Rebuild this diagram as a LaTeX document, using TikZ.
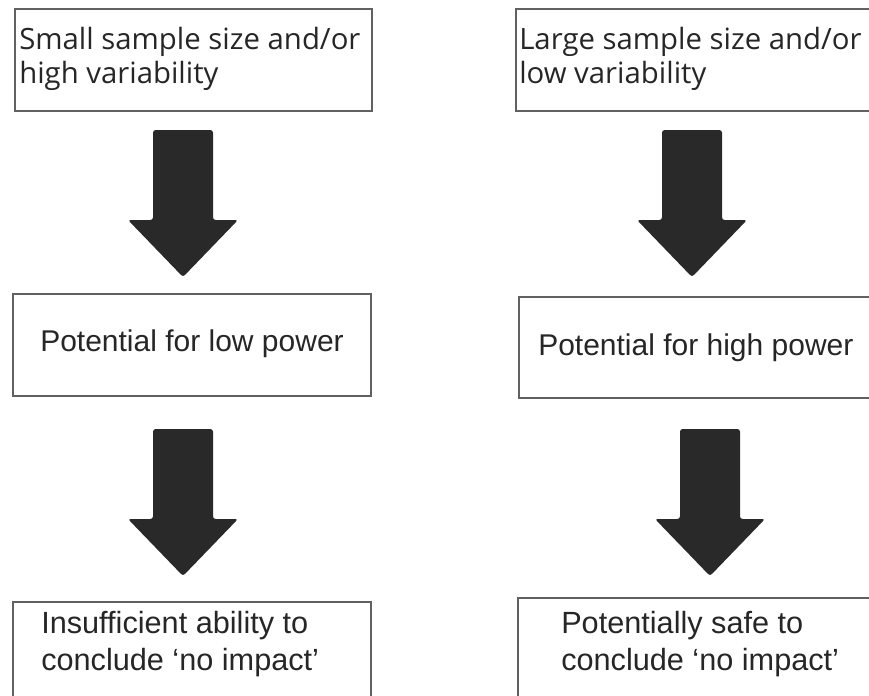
\documentclass[tikz,border=0pt]{standalone}
\usepackage{fontspec}
\newfontfamily\uifont{Open Sans}
\newfontfamily\arialfont{Liberation Sans}
\usepackage{tikz}
\usetikzlibrary{positioning,fit}

\begin{document}
\begin{tikzpicture}[x=0.75pt,y=-0.75pt,
    box/.style={draw=black!62,line width=1pt,inner sep=0pt},
    toptext/.style={anchor=north west,inner sep=0pt,align=left,text=black!85,
      font=\uifont\fontsize{22}{25.5}\selectfont},
    midtext/.style={anchor=north west,inner sep=0pt,align=left,text=black!85,
      font=\arialfont\fontsize{22.5}{26}\selectfont},
    bottext/.style={anchor=north west,inner sep=0pt,align=left,text=black!85,
      font=\arialfont\fontsize{23}{27.75}\selectfont},
    arrowfill/.style={fill=black!84,rounded corners=2}]
            \useasboundingbox (0,0) rectangle (869,696);
            \clip (0,0) rectangle (869,696);
            \def\bigarrow{(-30,0) -- (30,0) -- (30,90) -- (55,90) -- (0,147) -- (-55,90) -- (-30,90) -- cycle}
            % boxes
            \node[box,fit={(15,9) (372,111)}] (bL1) {};
            \node[box,fit={(516,9) (880,111)}] (bR1) {};
            \node[box,fit={(13,294) (371,396)}] (bL2) {};
            \node[box,fit={(519,297) (880,398)}] (bR2) {};
            \node[box,fit={(13,602) (371,710)}] (bL3) {};
            \node[box,fit={(518,598) (880,710)}] (bR3) {};
            % texts
            \node[toptext] (tL1) at (19,27) {Small sample size and/or\\high variability};
            \node[toptext] (tR1) at (519,27) {Large sample size and/or\\low variability};
            \node[midtext] (tL2) at (40,329) {Potential for low power};
            \node[midtext] (tR2) at (538,333) {Potential for high power};
            \node[bottext] (tL3) at (41,611) {Insufficient ability to\\conclude ‘no impact’};
            \node[bottext] (tR3) at (561,611) {Potentially safe to\\conclude ‘no impact’};
            % arrows
            \fill[arrowfill,shift={(183,130)}] \bigarrow;
            \fill[arrowfill,shift={(692,130)}] \bigarrow;
            \fill[arrowfill,shift={(183,429)}] \bigarrow;
            \fill[arrowfill,shift={(710,429)}] \bigarrow;
        \end{tikzpicture}
\end{document}
